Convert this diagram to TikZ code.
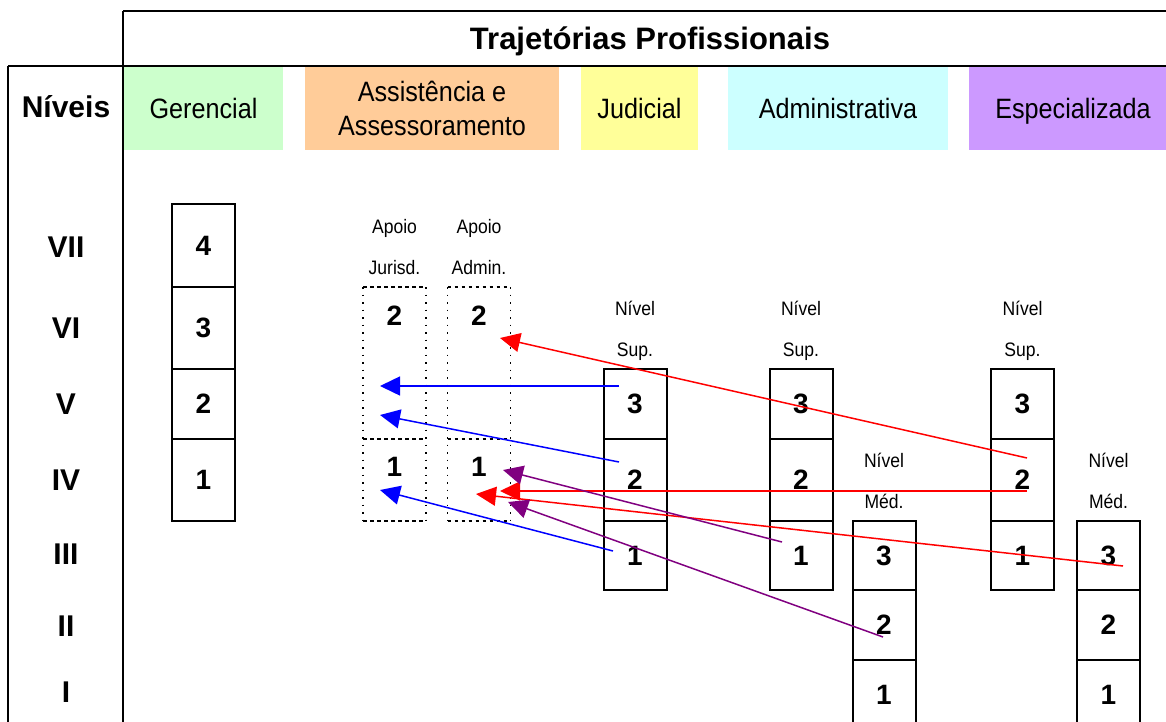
\documentclass[tikz,border=0pt]{standalone}
\usepackage{fontspec}
\setmainfont{Liberation Sans}
\newfontfamily\narrowfont[FakeStretch=0.9]{Liberation Sans}
\usetikzlibrary{arrows.meta, positioning}

\definecolor{verde}{HTML}{CCFFCC}
\definecolor{laranja}{HTML}{FFCC99}
\definecolor{amarelo}{HTML}{FFFF99}
\definecolor{ciano}{HTML}{CCFFFF}
\definecolor{lilas}{HTML}{CC99FF}
\definecolor{roxo}{HTML}{800080}

\begin{document}
\begin{tikzpicture}[x=1pt,y=-1pt,
		cell/.style={draw,line width=2pt,outer sep=0pt,inner sep=0pt,minimum width=63pt,font=\fontsize{28}{30}\selectfont\bfseries},
		apoio/.style={outer sep=0pt,inner sep=0pt,minimum width=63pt},
		hdr/.style={minimum height=83pt,inner sep=0pt,outer sep=0pt,font=\narrowfont\fontsize{28}{34}\selectfont},
		roman/.style={font=\fontsize{30}{32}\selectfont\bfseries},
		small/.style={anchor=base,font=\narrowfont\fontsize{19.5}{22}\selectfont},
		num/.style={inner sep=0pt,font=\fontsize{28}{30}\selectfont\bfseries},
		dots/.style={line width=1.5pt,dash pattern=on 1.5pt off 6pt},
		dashes/.style={line width=1.5pt,dash pattern=on 3.5pt off 3.5pt},
		seta/.style={line width=1.5pt,-{Triangle[length=20pt,width=19pt]}}]
		\useasboundingbox (0,0) rectangle (1166,722);
		
		% cabecalho
		\node[hdr,fill=verde,minimum width=159pt] (h_ger) at (203.5,108.5) {Gerencial};
		\node[hdr,fill=laranja,minimum width=254pt,align=center] (h_ass) at (432,108.5) {Assistência e\\Assessoramento};
		\node[hdr,fill=amarelo,minimum width=117pt] (h_jud) at (639.5,108.5) {Judicial};
		\node[hdr,fill=ciano,minimum width=220pt] (h_adm) at (838,108.5) {Administrativa};
		\node[hdr,fill=lilas,minimum width=208pt,text depth=0pt] (h_esp) at (1073,108.5) {Especializada};
		
		\draw[line width=2pt] (123,11) -- (1166,11);
		\draw[line width=2pt] (123,11) -- (123,730);
		\draw[line width=2pt] (8,66) -- (1166,66);
		\draw[line width=2pt] (8,66) -- (8,730);
		
		\node[anchor=base,font=\fontsize{31}{36}\selectfont\bfseries] (titulo) at (650,50) {Trajetórias Profissionais};
		\node[roman,anchor=base] (niveis) at (66,118) {Níveis};
		\foreach \r/\y in {VII/247,VI/328,V/404,IV/480,III/554,II/626,I/692}
			\node[roman] (nv_\r) at (66,\y) {\r};
		
		% Gerencial
		\node[cell,minimum height=83pt] (ger_4) at (203.5,245.5) {4};
		\node[cell,minimum height=82pt,below=0pt of ger_4] (ger_3) {3};
		\node[cell,minimum height=70pt,below=0pt of ger_3] (ger_2) {2};
		\node[cell,minimum height=82pt,below=0pt of ger_2] (ger_1) {1};
		
		% Apoio
		\node[apoio,minimum height=152pt] (jur_2) at (394.5,363) {};
		\node[apoio,minimum height=82pt,below=0pt of jur_2] (jur_1) {};
		\node[apoio,minimum height=152pt] (aadm_2) at (479,363) {};
		\node[apoio,minimum height=82pt,below=0pt of aadm_2] (aadm_1) {};
		\foreach \c in {jur,aadm} {
			\draw[dots] (\c_2.north west) -- (\c_1.south west);
			\draw[dots] (\c_2.north east) -- (\c_1.south east);
			\draw[dashes] (\c_2.north west) -- (\c_2.north east);
			\draw[dashes] (\c_1.north west) -- (\c_1.north east);
			\draw[dashes] (\c_1.south west) -- (\c_1.south east);
			\node[num] (\c_2n) at ([yshift=-29]\c_2.north) {2};
			\node[num] (\c_1n) at ([yshift=-28]\c_1.north) {1};
		}
		
		% Judicial
		\node[cell,minimum height=70pt] (jud_3) at (635,404) {3};
		\node[cell,minimum height=82pt,below=0pt of jud_3] (jud_2) {2};
		\node[cell,minimum height=69pt,below=0pt of jud_2] (jud_1) {1};
		
		% Administrativa
		\node[cell,minimum height=70pt] (adm_3) at (801,404) {3};
		\node[cell,minimum height=82pt,below=0pt of adm_3] (adm_2) {2};
		\node[cell,minimum height=69pt,below=0pt of adm_2] (adm_1) {1};
		\node[cell,minimum height=69pt] (admm_3) at (884,555.5) {3};
		\node[cell,minimum height=70pt,below=0pt of admm_3] (admm_2) {2};
		\node[cell,minimum height=70pt,below=0pt of admm_2] (admm_1) {1};
		
		% Especializada
		\node[cell,minimum height=70pt] (esp_3) at (1022.5,404) {3};
		\node[cell,minimum height=82pt,below=0pt of esp_3] (esp_2) {2};
		\node[cell,minimum height=69pt,below=0pt of esp_2] (esp_1) {1};
		\node[cell,minimum height=69pt] (espm_3) at (1108.5,555.5) {3};
		\node[cell,minimum height=70pt,below=0pt of espm_3] (espm_2) {2};
		\node[cell,minimum height=70pt,below=0pt of espm_2] (espm_1) {1};
		
		\foreach \c/\a/\b in {jur_2/Apoio/Jurisd., aadm_2/Apoio/Admin., jud_3/Nível/Sup., adm_3/Nível/Sup., esp_3/Nível/Sup., admm_3/Nível/Méd., espm_3/Nível/Méd.} {
			\node[small] (\c_t) at ([yshift=54]\c.north) {\a};
			\node[small] (\c_b) at ([yshift=13]\c.north) {\b};
		}
		
		% setas
		\draw[seta,blue] ([xshift=-16,yshift=18]jud_3.center) -- ([xshift=-14.5,yshift=-23]jur_2.center);
		\draw[seta,blue] ([xshift=-16,yshift=18]jud_2.center) -- ([xshift=-14.5,yshift=-52]jur_2.center);
		\draw[seta,blue] ([xshift=-22,yshift=4.5]jud_1.center) -- ([xshift=-14.5,yshift=-10]jur_1.center);
		\draw[seta,red] ([xshift=4.5,yshift=22]esp_2.center) -- ([xshift=21,yshift=25]aadm_2.center);
		\draw[seta,red] ([xshift=4.5,yshift=-11]esp_2.center) -- ([xshift=21,yshift=-11]aadm_1.center);
		\draw[seta,red] ([xshift=14.5,yshift=-10.5]espm_3.center) -- ([xshift=-3,yshift=-14]aadm_1.center);
		\draw[seta,roxo] ([xshift=-19,yshift=13.5]adm_1.center) -- ([xshift=24,yshift=10]aadm_1.center);
		\draw[seta,roxo] ([xshift=-1,yshift=-12]admm_2.center) -- ([xshift=29,yshift=-22]aadm_1.center);
	\end{tikzpicture}
\end{document}
